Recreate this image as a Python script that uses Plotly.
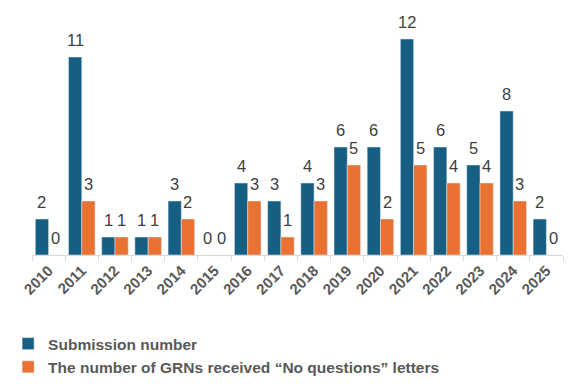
import plotly.graph_objects as go

years = [str(y) for y in range(2010, 2026)]
submissions = [2, 11, 1, 1, 3, 0, 4, 3, 4, 6, 6, 12, 6, 5, 8, 2]
no_questions = [0, 3, 1, 1, 2, 0, 3, 1, 3, 5, 2, 5, 4, 4, 3, 0]

blue = "#175F82"
orange = "#E97132"
font_family = "Liberation Sans, Arial, sans-serif"

fig = go.Figure()
fig.add_trace(go.Bar(x=years, y=submissions, name="<b>Submission number</b>",
                     marker_color=blue))
fig.add_trace(go.Bar(x=years, y=no_questions,
                     name="<b>The number of GRNs received \u201cNo questions\u201d letters</b>",
                     marker_color=orange))

# value labels placed from the data (category index), offset to each bar of the group
half_bar = 6.6
for series, shift in ((submissions, -half_bar), (no_questions, half_bar)):
    for i, v in enumerate(series):
        fig.add_annotation(x=i, y=v, xref="x", yref="y", text=str(v),
                           showarrow=False, xanchor="center", yanchor="bottom",
                           xshift=shift, yshift=6,
                           font=dict(size=16.5, color="#404040", family=font_family))

fig.update_layout(
    width=567, height=376,
    margin=dict(l=24, r=12, t=13, b=129, autoexpand=False),
    barmode="group", bargap=0.2, bargroupgap=0,
    plot_bgcolor="white", paper_bgcolor="white",
    font=dict(family=font_family, color="#595959"),
    showlegend=True,
    legend=dict(orientation="v", x=-0.045, xanchor="left", y=-0.308, yanchor="top",
                font=dict(size=15.5, color="#595959", family=font_family),
                itemwidth=30, tracegroupgap=0),
    xaxis=dict(type="category", categoryorder="array", categoryarray=years,
               tickangle=-45, showgrid=False,
               showline=True, linecolor="#D9D9D9", linewidth=1,
               ticks="outside", tickson="boundaries", ticklen=5, tickcolor="#D9D9D9",
               tickfont=dict(size=15, color="#595959", family=font_family, weight="bold")),
    yaxis=dict(range=[0, 13], visible=False),
)

fig.write_html("out.html")
